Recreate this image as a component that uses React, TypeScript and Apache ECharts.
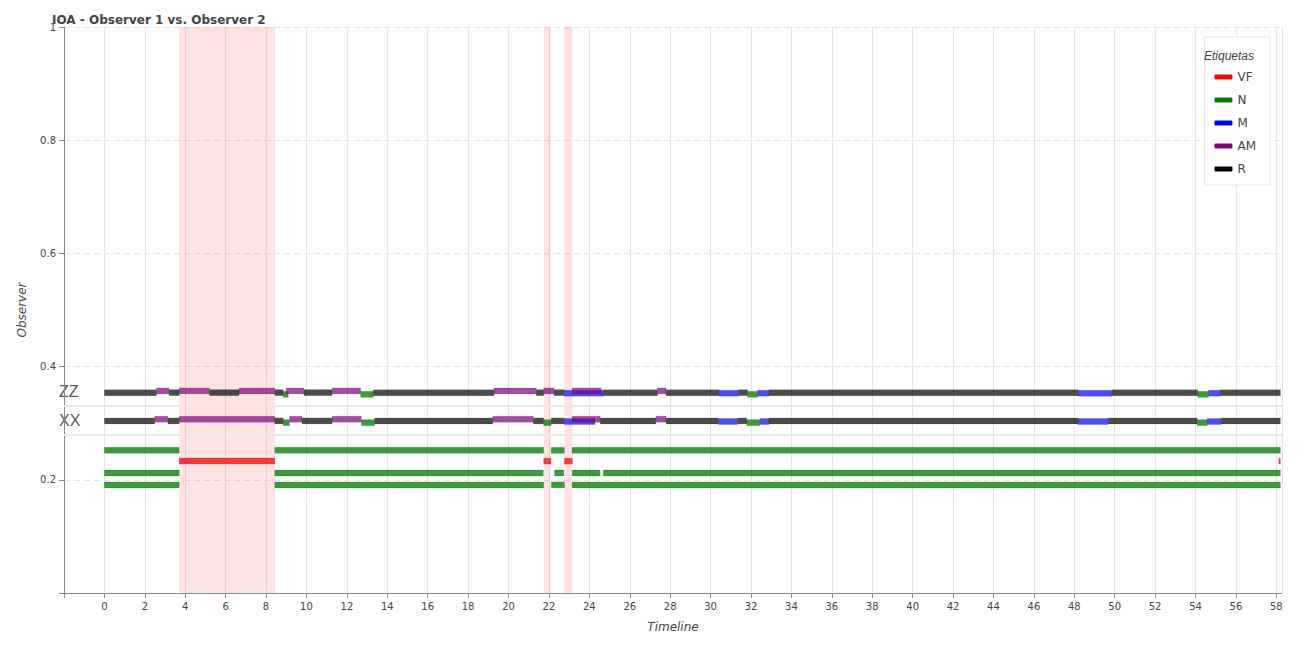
import React, { useEffect, useRef } from 'react';
import * as echarts from 'echarts';

const labels = ['VF', 'N', 'M', 'AM', 'R'];
const colors: Record<string, string> = {
  VF: 'rgba(255,0,0,0.75)',
  N: 'rgba(0,128,0,0.78)',
  M: 'rgba(0,0,255,0.7)',
  AM: 'rgba(128,0,128,0.7)',
  R: 'rgba(0,0,0,0.7)',
};
const legendColors: Record<string, string> = { VF: '#ff0000', N: '#008000', M: '#0000ff', AM: '#800080', R: '#000000' };
const labelOffset: Record<string, number> = { VF: 0, N: -0.003, M: -0.001, AM: 0.003, R: 0 };

const rowY = { ZZ: 0.354, XX: 0.304, g1: 0.252, red: 0.233, g2: 0.212, g3: 0.191 };

// [start, end, label]
const zzSegments: [number, number, string][] = [
  [0, 2.58, 'R'], [2.58, 3.2, 'AM'], [3.2, 3.7, 'R'], [3.7, 5.2, 'AM'], [5.2, 6.66, 'R'],
  [6.66, 8.43, 'AM'], [8.43, 8.85, 'R'], [8.85, 9.1, 'N'], [9.0, 9.87, 'AM'], [9.87, 11.27, 'R'],
  [11.27, 12.68, 'AM'], [12.68, 13.31, 'N'], [13.31, 19.28, 'R'], [19.28, 21.37, 'AM'],
  [21.37, 21.74, 'R'], [21.74, 22.25, 'AM'], [22.25, 22.77, 'R'], [22.77, 24.68, 'M'],
  [23.15, 24.59, 'AM'], [24.68, 27.37, 'R'], [27.37, 27.8, 'AM'], [27.8, 30.41, 'R'],
  [30.41, 31.37, 'M'], [31.37, 31.83, 'R'], [31.83, 32.33, 'N'], [32.33, 32.89, 'M'],
  [32.89, 48.18, 'R'], [48.18, 49.87, 'M'], [49.87, 54.11, 'R'], [54.11, 54.64, 'N'],
  [54.64, 55.23, 'M'], [55.23, 58.2, 'R'],
];
const xxSegments: [number, number, string][] = [
  [0, 2.49, 'R'], [2.49, 3.14, 'AM'], [3.14, 3.7, 'R'], [3.7, 8.43, 'AM'], [8.43, 8.85, 'R'],
  [8.85, 9.16, 'N'], [9.16, 9.78, 'AM'], [9.78, 11.27, 'R'], [11.27, 12.72, 'AM'],
  [12.72, 13.37, 'N'], [13.37, 19.22, 'R'], [19.22, 21.23, 'AM'], [21.23, 21.74, 'R'],
  [21.74, 22.11, 'N'], [22.11, 22.75, 'R'], [22.75, 24.28, 'M'], [23.14, 24.54, 'AM'],
  [24.54, 27.29, 'R'], [27.29, 27.8, 'AM'], [27.8, 30.38, 'R'], [30.38, 31.33, 'M'],
  [31.33, 31.79, 'R'], [31.79, 32.44, 'N'], [32.44, 32.89, 'M'], [32.89, 48.18, 'R'],
  [48.18, 49.68, 'M'], [49.68, 54.08, 'R'], [54.08, 54.58, 'N'], [54.58, 55.27, 'M'],
  [55.27, 58.2, 'R'],
];
const green1: [number, number][] = [[0, 3.7], [8.43, 21.74], [22.11, 22.77], [23.14, 58.2]];
const redRow: [number, number][] = [[3.7, 8.43], [21.74, 22.1], [22.77, 23.16], [58.12, 58.2]];
const green2: [number, number][] = [[0, 3.7], [8.43, 21.72], [22.28, 22.74], [23.15, 24.53], [24.69, 58.2]];
const green3: [number, number][] = [[0, 3.7], [8.43, 21.74], [22.12, 22.77], [23.15, 58.2]];
const vfBands: [number, number][] = [[3.7, 8.45], [21.75, 22.08], [22.76, 23.17]];

const App: React.FC = () => {
  const chartRef = useRef<HTMLDivElement | null>(null);

  useEffect(() => {
    const chart = echarts.init(chartRef.current!, null, { renderer: 'svg' });

    const rows: [number, number, number, string][] = [];
    zzSegments.forEach(([s, e, l]) => rows.push([s, e, rowY.ZZ + labelOffset[l], l]));
    xxSegments.forEach(([s, e, l]) => rows.push([s, e, rowY.XX + labelOffset[l], l]));
    green1.forEach(([s, e]) => rows.push([s, e, rowY.g1, 'N']));
    redRow.forEach(([s, e]) => rows.push([s, e, rowY.red, 'VF']));
    green2.forEach(([s, e]) => rows.push([s, e, rowY.g2, 'N']));
    green3.forEach(([s, e]) => rows.push([s, e, rowY.g3, 'N']));

    const renderItem = (params: any, api: any) => {
      const p0 = api.coord([api.value(0), api.value(2)]);
      const p1 = api.coord([api.value(1), api.value(2)]);
      const h = 6;
      const lab = labels[api.value(3)];
      return {
        type: 'rect',
        shape: { x: p0[0], y: p0[1] - h / 2, width: Math.max(p1[0] - p0[0], 1), height: h },
        style: { fill: colors[lab], stroke: 'rgba(0,0,0,0.15)', lineWidth: 0.8 },
      };
    };

    const series: any[] = labels.map((l) => ({
      name: l,
      type: 'custom',
      renderItem,
      itemStyle: { color: legendColors[l] },
      encode: { x: [0, 1], y: 2 },
      data: rows.filter((r) => r[3] === l).map((r) => [r[0], r[1], r[2], labels.indexOf(l)]),
    }));
    series.push({
      type: 'line',
      data: [],
      silent: true,
      markArea: {
        silent: true,
        itemStyle: { color: 'rgba(255,0,0,0.11)' },
        data: vfBands.map(([s, e]) => [{ xAxis: s }, { xAxis: e }]),
      },
      markLine: {
        silent: true,
        symbol: 'none',
        label: { show: false },
        lineStyle: { color: '#e8e8e8', type: 'solid', width: 2 },
        data: [{ yAxis: 0.332 }, { yAxis: 0.282 }],
      },
    });

    chart.setOption({
      animation: false,
      textStyle: { fontFamily: 'DejaVu Sans, Arial, sans-serif' },
      title: {
        text: 'IOA - Observer 1 vs. Observer 2',
        left: 39,
        top: 1,
        textStyle: { fontSize: 12, fontWeight: 'bold', color: '#444' },
      },
      grid: { left: 40, right: 20, top: 19, bottom: 36 },
      legend: {
        orient: 'vertical',
        right: 32,
        top: 29,
        padding: [34, 14, 10, 10],
        itemWidth: 18,
        itemHeight: 5,
        itemGap: 11,
        backgroundColor: '#fff',
        borderColor: '#e5e5e5',
        borderWidth: 1,
        data: labels,
        textStyle: { fontSize: 12, color: '#444' },
      },
      graphic: [
        { type: 'text', left: 1196, top: 42, z: 100, style: { text: 'Etiquetas', fontSize: 12, fontStyle: 'italic', fill: '#444' } },
        { type: 'text', left: 51, top: 375, style: { text: 'ZZ', fontSize: 16, fill: '#555' } },
        { type: 'text', left: 51, top: 404, style: { text: 'XX', fontSize: 16, fill: '#555' } },
      ],
      xAxis: {
        type: 'value',
        min: -2,
        max: 58.28,
        interval: 2,
        name: 'Timeline',
        nameLocation: 'middle',
        nameGap: 28,
        nameTextStyle: { fontStyle: 'italic', fontSize: 12, color: '#444' },
        axisLine: { onZero: false, lineStyle: { color: '#888' } },
        axisTick: { lineStyle: { color: '#888' } },
        axisLabel: { fontSize: 10, color: '#444', formatter: (v: number) => (v < 0 ? '' : String(v)) },
        splitLine: { show: true, lineStyle: { color: '#e5e5e5' } },
      },
      yAxis: {
        type: 'value',
        min: 0,
        max: 1,
        interval: 0.2,
        name: 'Observer',
        nameLocation: 'middle',
        nameGap: 36,
        nameTextStyle: { fontStyle: 'italic', fontSize: 12, color: '#444' },
        axisLine: { show: true, onZero: false, lineStyle: { color: '#888' } },
        axisTick: { show: true, lineStyle: { color: '#888' } },
        axisLabel: { fontSize: 10, color: '#444', formatter: (v: number) => (v === 0 ? '' : String(+v.toFixed(1))) },
        splitLine: { show: true, lineStyle: { color: '#e5e5e5', type: [6, 4] } },
      },
      series,
    });

    return () => {
      chart.dispose();
    };
  }, []);

  return <div ref={chartRef} style={{ width: '1294px', height: '630px' }} />;
};

export default App;
